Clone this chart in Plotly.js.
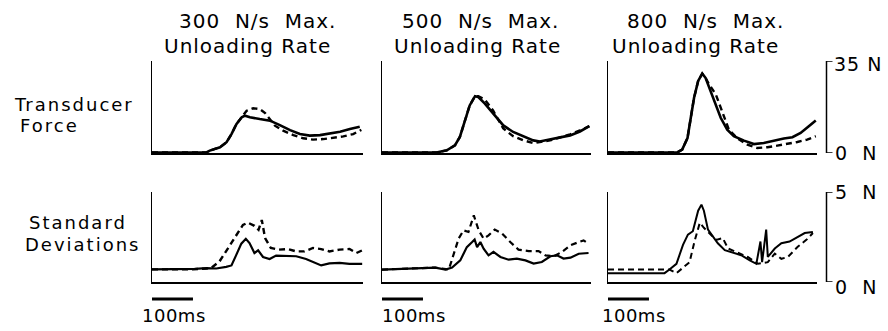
<!DOCTYPE html>
<html>
<head>
<meta charset="utf-8">
<script src="https://cdn.plot.ly/plotly-3.0.1.min.js"></script>
<style>
html,body{margin:0;padding:0;background:#fff;}
#chart{width:888px;height:331px;}
</style>
</head>
<body>
<div id="chart"></div>
<script>
// ---------- data (time in ms, force in N) ----------
const panelTitles1 = ["300\u00a0\u00a0N/s\u00a0\u00a0Max.", "500\u00a0\u00a0N/s\u00a0\u00a0Max.", "800\u00a0\u00a0N/s\u00a0\u00a0Max."];
const panelTitles2 = ["Unloading\u00a0Rate", "Unloading\u00a0Rate", "Unloading\u00a0Rate"];
const rowLabelsTop = ["Transducer", "Force"];
const rowLabelsBottom = ["Standard", "Deviations"];
const scaleBarLabel = "100ms";
const scaleBarMs = 100;
const forceMax = 35;
const sdMax = 5;

// Transducer force, 300 N/s
const f300_t_solid = [0,133,141,166,182,194,206,219,227,239,263,288,312,337,361,385,410,434,459,483,507];
const f300_solid   = [0.2,0.2,0.9,2.2,4.1,7.2,11.0,13.6,14.2,13.6,12.9,12.3,10.6,8.7,7.2,6.6,6.8,7.5,8.1,9.1,10.0];
const f300_t_dash  = [0,133,141,166,182,194,206,219,231,247,263,276,288,300,320,345,369,393,418,442,467,491,511];
const f300_dash    = [0.2,0.2,0.9,2.2,4.1,7.2,11.0,13.6,16.1,17.0,16.7,15.2,12.9,10.4,8.5,6.8,5.6,5.1,5.3,5.8,6.3,7.2,8.8];

// Transducer force, 500 N/s
const f500_t      = [0,133,158,178,190,202,214,227,235,251,271,296,320,345,369,385,410,434,459,483,506];
const f500_solid  = [0.2,0.2,1.0,2.9,6.1,12.4,18.1,21.6,21.3,18.8,15.0,10.5,8.0,6.4,4.8,4.4,5.1,5.9,6.7,8.2,10.2];
const f500_dash   = [0.2,0.2,1.0,2.9,6.1,12.4,18.1,21.6,21.6,20.3,16.2,9.3,6.4,4.8,3.8,4.2,4.8,5.9,7.1,8.6,10.2];

// Transducer force, 800 N/s
const f800_t_solid = [0,169,181,194,202,210,220,230,238,250,263,275,291,307,332,356,380,405,429,450,470,490,507];
const f800_solid   = [0.2,0.2,1.3,5.7,13.4,21.0,27.4,30.2,28.6,23.5,17.8,13.4,8.9,6.4,4.7,3.4,3.8,4.7,5.5,6.0,7.6,10.2,12.4];
const f800_t_dash  = [0,169,181,194,202,210,220,230,238,246,263,279,295,316,340,364,389,413,438,462,486,507];
const f800_dash    = [0.2,0.2,1.3,5.7,13.4,21.0,27.4,30.2,28.6,26.3,22.3,15.9,8.9,5.5,3.2,1.9,2.2,2.8,3.4,4.2,5.1,6.4];

// Standard deviations, 300 N/s
const s300_t_solid = [0,100,104,133,157,181,194,206,218,229,238,250,259,271,287,303,328,352,376,397,413,433,458,482,513];
const s300_solid   = [0.70,0.70,0.73,0.77,0.75,0.84,0.92,1.52,2.13,2.40,2.16,1.61,1.76,1.39,1.28,1.47,1.47,1.43,1.28,1.06,0.92,1.03,1.06,1.01,1.01];
const s300_t_dash  = [0,100,133,145,165,189,206,222,234,250,260,268,276,290,310,332,352,372,393,413,433,458,482,499,513];
const s300_dash    = [0.70,0.70,0.75,0.79,1.15,1.98,2.62,3.17,3.30,3.12,2.90,3.44,2.44,1.89,1.80,1.83,1.70,1.70,1.89,1.83,1.70,1.80,1.83,1.61,1.76];

// Standard deviations, 500 N/s
const s500_t_solid = [0,130,155,171,191,207,220,226,232,240,248,260,272,289,309,329,350,370,390,411,427,443,460,480,504];
const s500_solid   = [0.69,0.80,0.69,0.80,1.20,1.94,2.22,2.36,1.94,2.22,1.85,1.48,1.67,1.39,1.24,1.30,1.20,1.02,1.11,1.43,1.48,1.30,1.35,1.57,1.61];
const s500_t_dash  = [0,130,163,175,187,199,211,224,236,248,260,275,293,313,333,358,382,399,419,439,460,480,492,504];
const s500_dash    = [0.69,0.80,0.69,1.57,2.41,2.87,2.78,3.70,2.87,2.41,2.59,2.91,2.69,2.22,1.80,1.72,1.72,1.48,1.43,1.67,2.04,2.22,2.31,2.13];

// Standard deviations, 800 N/s
const s800_t_solid = [0,138,150,167,183,195,207,220,228,234,244,256,268,285,305,325,346,362,372,376,386,390,407,423,443,463,480,500];
const s800_solid   = [0.49,0.49,0.69,1.01,2.06,2.63,2.82,3.96,4.30,3.96,2.91,2.53,2.15,1.77,1.63,1.49,1.20,1.01,2.25,1.10,2.91,1.39,1.86,2.15,2.25,2.53,2.72,2.78];
const s800_t_dash  = [0,150,167,183,199,211,224,234,248,264,280,293,317,341,366,390,407,423,439,463,484,500];
const s800_dash    = [0.69,0.69,0.49,0.82,1.10,2.25,3.29,3.01,2.72,2.34,2.44,1.86,1.63,1.39,1.01,1.10,1.58,1.29,1.39,1.96,2.34,2.72];

// ---------- build ----------
const W = 888, H = 331;
const px = v => v / W;
const py = v => 1 - v / H;
const FONT = "DejaVu Sans, sans-serif";

function line(x, y, xa, ya, dashed, w) {
  return {
    type: "scatter", mode: "lines", x: x, y: y, xaxis: xa, yaxis: ya,
    line: {color: "#000", width: w, dash: dashed ? "6px,4px" : "solid", shape: "linear"},
    hoverinfo: "skip", showlegend: false
  };
}

const data = [
  line(f300_t_solid, f300_solid, "x", "y", false, 2.6),
  line(f300_t_dash, f300_dash, "x", "y", true, 2.4),
  line(f500_t, f500_solid, "x2", "y2", false, 2.6),
  line(f500_t, f500_dash, "x2", "y2", true, 2.4),
  line(f800_t_solid, f800_solid, "x3", "y3", false, 2.6),
  line(f800_t_dash, f800_dash, "x3", "y3", true, 2.4),
  line(s300_t_solid, s300_solid, "x4", "y4", false, 2.2),
  line(s300_t_dash, s300_dash, "x4", "y4", true, 2.4),
  line(s500_t_solid, s500_solid, "x5", "y5", false, 2.2),
  line(s500_t_dash, s500_dash, "x5", "y5", true, 2.2),
  line(s800_t_solid, s800_solid, "x6", "y6", false, 2.0),
  line(s800_t_dash, s800_dash, "x6", "y6", true, 2.0)
];

const xDom = [[px(152), px(363)], [px(382), px(591)], [px(608), px(817)]];
const xRng = [[0, 515], [0, 510], [0, 510]];
const topDom = [py(153), py(61)];
const botDom = [py(282), py(192)];

function xax(dom, rng, anchor) {
  return {domain: dom, range: rng, anchor: anchor, showline: true, linecolor: "#000", linewidth: 1.5,
          showgrid: false, zeroline: false, ticks: "", showticklabels: false, fixedrange: true};
}
function yax(dom, rng, anchor) {
  return {domain: dom, range: rng, anchor: anchor, showline: true, linecolor: "#000", linewidth: 1.5,
          showgrid: false, zeroline: false, ticks: "", showticklabels: false, fixedrange: true};
}

const layout = {
  width: W, height: H,
  margin: {l: 0, r: 0, t: 0, b: 0},
  paper_bgcolor: "#fff", plot_bgcolor: "rgba(0,0,0,0)",
  showlegend: false,
  font: {family: FONT, color: "#000"},
  xaxis:  xax(xDom[0], xRng[0], "y"),
  xaxis2: xax(xDom[1], xRng[1], "y2"),
  xaxis3: xax(xDom[2], xRng[2], "y3"),
  xaxis4: xax(xDom[0], xRng[0], "y4"),
  xaxis5: xax(xDom[1], xRng[1], "y5"),
  xaxis6: xax(xDom[2], xRng[2], "y6"),
  yaxis:  yax(topDom, [0, forceMax], "x"),
  yaxis2: yax(topDom, [0, forceMax], "x2"),
  yaxis3: yax(topDom, [0, forceMax], "x3"),
  yaxis4: yax(botDom, [0, sdMax], "x4"),
  yaxis5: yax(botDom, [0, sdMax], "x5"),
  yaxis6: yax(botDom, [0, sdMax], "x6"),
  shapes: [],
  annotations: []
};

// scale bars (100 ms) under bottom row
["x4", "x5", "x6"].forEach(xa => {
  layout.shapes.push({type: "line", xref: xa, yref: "paper", x0: 0, x1: scaleBarMs,
    y0: py(299), y1: py(299), line: {color: "#000", width: 3}});
});

// right-hand force brackets
function bracket(yref, top) {
  const xb = px(826.5), xt = px(832.5);
  layout.shapes.push({type: "line", xref: "paper", yref: yref, x0: xb, x1: xb, y0: 0, y1: top, line: {color: "#000", width: 1.5}});
  layout.shapes.push({type: "line", xref: "paper", yref: yref, x0: xb, x1: xt, y0: top, y1: top, line: {color: "#000", width: 1.5}});
  layout.shapes.push({type: "line", xref: "paper", yref: yref, x0: xb, x1: xt, y0: 0, y1: 0, line: {color: "#000", width: 1.5}});
}
bracket("y3", forceMax);
bracket("y6", sdMax);

function ann(text, x, y, size, ls) {
  layout.annotations.push({
    text: '<span style="letter-spacing:' + ls + 'px">' + text + '</span>',
    xref: "paper", yref: "paper", x: px(x), y: py(y),
    xanchor: "left", yanchor: "middle", showarrow: false,
    font: {family: FONT, size: size, color: "#000"}
  });
}

// panel titles
const t1x = [177, 400, 625];
const t2x = [162, 392, 610];
for (let i = 0; i < 3; i++) {
  ann(panelTitles1[i], t1x[i], 21, 20, 1);
  ann(panelTitles2[i], t2x[i], 46, 20, 1);
}
// row labels
ann(rowLabelsTop[0], 12, 104, 18, 2);
ann(rowLabelsTop[1], 18, 126, 18, 2);
ann(rowLabelsBottom[0], 27, 222, 18, 2);
ann(rowLabelsBottom[1], 23, 244, 18, 2);
// scale labels
ann("35\u00a0N", 832, 64, 19, 1);
ann("0\u00a0\u00a0N", 833, 153, 19, 1);
ann("5\u00a0\u00a0N", 833, 192, 19, 1);
ann("0\u00a0\u00a0N", 833, 287, 19, 1);
// time scale labels
[140, 380, 600].forEach(x => ann(scaleBarLabel, x, 315, 18, 0.5));

Plotly.newPlot("chart", data, layout, {staticPlot: true, displayModeBar: false});
</script>
</body>
</html>
